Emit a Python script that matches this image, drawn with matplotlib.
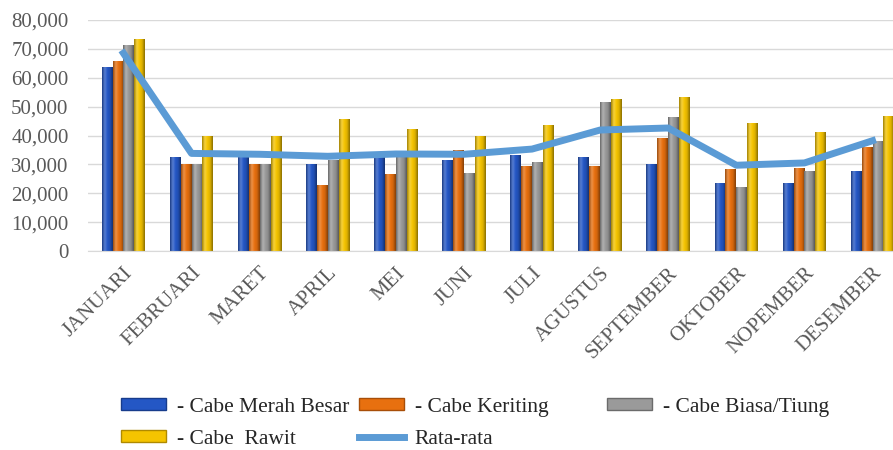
import matplotlib
matplotlib.use("Agg")
import matplotlib.pyplot as plt
import numpy as np
from matplotlib.ticker import FuncFormatter
from matplotlib.patches import Patch
from matplotlib.lines import Line2D
from matplotlib.colors import LinearSegmentedColormap, to_rgb

months = ["JANUARI", "FEBRUARI", "MARET", "APRIL", "MEI", "JUNI", "JULI",
          "AGUSTUS", "SEPTEMBER", "OKTOBER", "NOPEMBER", "DESEMBER"]
merah_besar = [63800, 32600, 32400, 30300, 32600, 31500, 33200, 32600, 30300, 23400, 23400, 27800]
keriting    = [65900, 30300, 30300, 22800, 26600, 34900, 29400, 29400, 39000, 28300, 28600, 36100]
biasa_tiung = [71300, 30300, 30300, 31500, 32600, 26900, 30900, 51700, 46500, 22000, 27800, 38200]
rawit       = [73300, 39800, 39800, 45600, 42200, 39800, 43600, 52800, 53200, 44400, 41300, 46700]
rata_rata   = [68500, 33800, 33500, 32800, 33600, 33500, 35300, 41900, 42600, 29700, 30500, 38200]

series = [merah_besar, keriting, biasa_tiung, rawit]
labels = ["- Cabe Merah Besar", "- Cabe Keriting", "- Cabe Biasa/Tiung", "- Cabe  Rawit"]
colors = ["#2457C5", "#E8700F", "#9A9A9A", "#F5C400"]
edges = ["#173C8C", "#A84E08", "#6B6B6B", "#B08A00"]
line_color = "#5B9BD5"

serif = ["Liberation Serif", "DejaVu Serif"]
txt_color = "#595959"


def shade(c, f):
    r = np.array(to_rgb(c))
    if f >= 0:
        return tuple(r + (1 - r) * f)
    return tuple(r * (1 + f))


fig = plt.figure(figsize=(8.93, 4.5), dpi=100)
ax = fig.add_axes([88/893, 1 - 251/450, (893 - 88)/893, (251 - 20)/450])

x = np.arange(len(months))
w = 0.16
grad = np.linspace(0, 1, 64).reshape(1, -1)
for i, (vals, c, ec) in enumerate(zip(series, colors, edges)):
    cmap = LinearSegmentedColormap.from_list(
        "g%d" % i, [shade(c, -0.35), shade(c, 0.25), c, shade(c, -0.1), shade(c, -0.45)])
    bars = ax.bar(x + (i - 1.5) * w, vals, width=w, color=c, edgecolor="none",
                  linewidth=0, zorder=2)
    for b in bars:
        x0, y0 = b.get_x(), b.get_y()
        im = ax.imshow(grad, cmap=cmap, aspect="auto", interpolation="bicubic",
                       extent=(x0, x0 + b.get_width(), y0, y0 + b.get_height()), zorder=2.1)
        im.set_clip_path(b)

ax.plot(x, rata_rata, color=line_color, linewidth=5, zorder=3, solid_joinstyle="round")

ax.set_ylim(0, 80000)
ax.set_xlim(-0.52, 11.3)
ax.set_yticks(np.arange(0, 80001, 10000))
ax.yaxis.set_major_formatter(FuncFormatter(lambda v, p: "0" if v == 0 else f"{int(v):,}"))
ax.grid(axis="y", color="#D9D9D9", linewidth=1, zorder=0)
ax.set_axisbelow(True)
for s in ["top", "right", "left"]:
    ax.spines[s].set_visible(False)
ax.spines["bottom"].set_color("#D9D9D9")
ax.tick_params(axis="y", length=0, pad=14, labelsize=15, labelcolor=txt_color)
ax.tick_params(axis="x", length=0, pad=9)
for lab in ax.get_yticklabels():
    lab.set_fontfamily(serif)

ax.set_xticks(x)
ax.set_xticklabels(months, rotation=45, ha="right", va="top", rotation_mode="anchor",
                   fontsize=15, color=txt_color, fontfamily=serif)

handles = [Patch(facecolor=c, edgecolor=ec) for c, ec in zip(colors, edges)]
line_h = Line2D([0], [0], color=line_color, linewidth=5)

leg_kw = dict(frameon=False, prop={"family": serif, "size": 15.5}, handlelength=2.1,
              handleheight=0.5, handletextpad=0.5, labelspacing=0.6, borderaxespad=0,
              labelcolor="#262626")
top = 1 - 389/450
fig.legend([handles[0], handles[3]], [labels[0], labels[3]], loc="upper left",
           bbox_to_anchor=(112/893, top), **leg_kw)
fig.legend([handles[1], line_h], [labels[1], "Rata-rata"], loc="upper left",
           bbox_to_anchor=(350/893, top), **leg_kw)
fig.legend([handles[2]], [labels[2]], loc="upper left",
           bbox_to_anchor=(598/893, top), **leg_kw)

fig.savefig("out.png", dpi=100)
